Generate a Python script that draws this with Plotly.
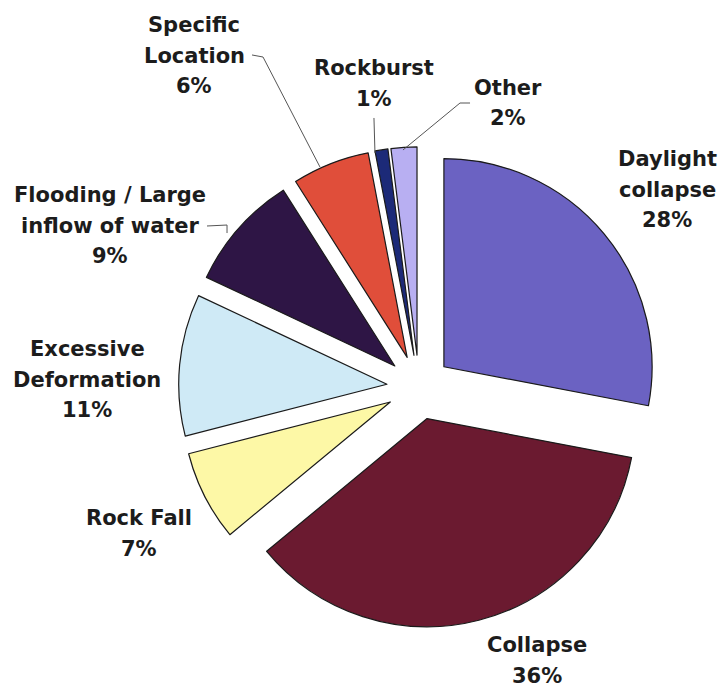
import plotly.graph_objects as go

# Causes of tunnel failures (share of cases, %)
categories = ["Daylight\ncollapse", "Collapse", "Rock Fall", "Excessive\nDeformation",
              "Flooding / Large\ninflow of water", "Specific\nLocation", "Rockburst", "Other"]
shares = [28, 36, 7, 11, 9, 6, 1, 2]
colors = ["#6B62C2", "#6B1A30", "#FDF8A6", "#CFEAF6", "#2E1545", "#E04E3A", "#1C2A78", "#B8AFF2"]

# label anchor (x centre, y of first line) in pixels from the top-left corner
label_pos = [(667, 159), (537, 645), (139, 518), (87, 349),
             (110, 195), (194, 25), (374, 68), (508, 88)]

W, H = 720, 696
LINE_STEP = 30.5

fig = go.Figure(go.Pie(
    labels=[c.replace("\n", " ") for c in categories],
    values=shares,
    sort=False,
    direction="clockwise",
    rotation=0,
    pull=[0.155] * len(shares),
    marker=dict(colors=colors, line=dict(color="#1a1a1a", width=1.2)),
    textinfo="none",
    hoverinfo="label+percent",
    showlegend=False,
    domain=dict(x=[0.247, 0.917], y=[0.098, 0.789]),
))

annotations = []
for cat, val, (px, py) in zip(categories, shares, label_pos):
    lines = cat.split("\n") + [f"{val}%"]
    for i, line in enumerate(lines):
        annotations.append(dict(
            x=px / W, y=1 - (py + i * LINE_STEP) / H,
            xref="paper", yref="paper",
            text=line, showarrow=False,
            xanchor="center", yanchor="middle",
            font=dict(family="DejaVu Sans", size=21, color="#1c1c1c", weight="bold"),
        ))

# leader lines from labels to the small slices
leaders = [
    [(252, 55), (263, 57), (320, 167)],   # Specific Location
    [(374, 118), (375, 153)],             # Rockburst
    [(470, 103), (460, 103), (403, 150)], # Other
    [(207, 226), (227, 225), (227, 233)], # Flooding
]
shapes = []
for pts in leaders:
    path = "M " + " L ".join(f"{x / W:.4f},{1 - y / H:.4f}" for x, y in pts)
    shapes.append(dict(type="path", path=path, xref="paper", yref="paper",
                       line=dict(color="#555555", width=1)))

fig.update_layout(
    width=W, height=H,
    margin=dict(l=0, r=0, t=0, b=0),
    paper_bgcolor="white",
    plot_bgcolor="white",
    annotations=annotations,
    shapes=shapes,
)

fig.write_html("out.html")
